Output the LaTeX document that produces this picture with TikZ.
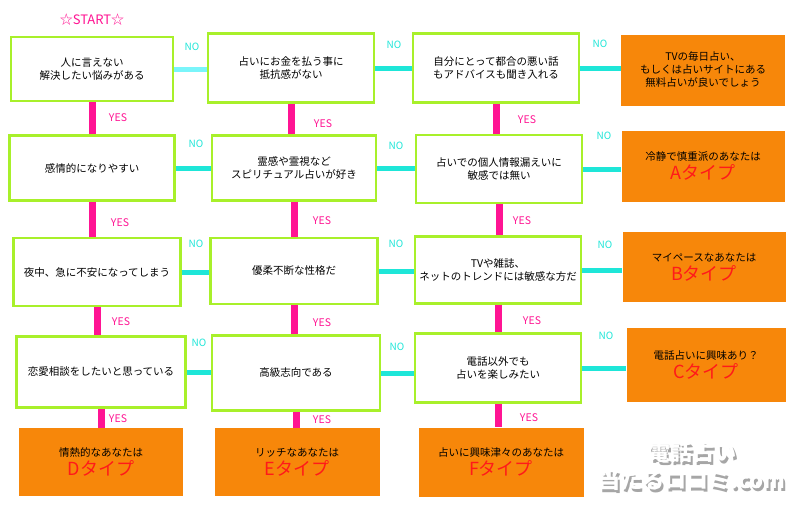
\documentclass[tikz,border=0pt]{standalone}
\usepackage{fontspec}
\setmainfont{Noto Sans CJK JP}
\begin{document}
\begin{tikzpicture}[x=1pt,y=-1pt,
    qbox/.style={draw=lime_green, line width=2.2pt, fill=white, align=center, font=\fontsize{10.5}{13}\selectfont, inner sep=0pt},
    abox/.style={fill=res_orange, align=center, font=\fontsize{10.5}{13}\selectfont, inner sep=0pt},
    nolink/.style={draw=no_cyan, line width=5pt},
    yeslink/.style={draw=yes_pink, line width=7pt},
    nolab/.style={text=no_cyan, font=\fontsize{10}{12}\selectfont},
    yeslab/.style={text=yes_pink, font=\fontsize{10.5}{12}\selectfont}]
    \definecolor{lime_green}{HTML}{A8F02A}
    \definecolor{res_orange}{HTML}{F7870A}
    \definecolor{no_cyan}{HTML}{1EE6D8}
    \definecolor{light_cyan}{HTML}{7AF5FA}
    \definecolor{yes_pink}{HTML}{FF1493}
    \definecolor{type_red}{HTML}{FF1A1A}
    \useasboundingbox[fill=white] (0,0) rectangle (800,512);

    \node[text=yes_pink, font=\fontsize{13}{14}\selectfont] (start) at (92,20) {☆START☆};

    % questions
    \node[qbox, minimum width=162, minimum height=64] (q1) at (92,69) {人に言えない\\解決したい悩みがある};
    \node[qbox, minimum width=166, minimum height=69] (q2) at (291,68) {占いにお金を払う事に\\抵抗感がない};
    \node[qbox, minimum width=166, minimum height=69] (q3) at (496,68) {自分にとって都合の悪い話\\もアドバイスも聞き入れる};
    \node[qbox, minimum width=165, minimum height=65] (q4) at (92,168) {感情的になりやすい};
    \node[qbox, minimum width=164, minimum height=65] (q5) at (294,168) {霊感や霊視など\\スピリチュアル占いが好き};
    \node[qbox, minimum width=166, minimum height=68] (q6) at (499,169) {占いでの個人情報漏えいに\\敏感では無い};
    \node[qbox, minimum width=167, minimum height=68] (q7) at (97,272) {夜中、急に不安になってしまう};
    \node[qbox, minimum width=167, minimum height=66] (q8) at (294,271) {優柔不断な性格だ};
    \node[qbox, minimum width=166, minimum height=67] (q9) at (498,270) {TVや雑誌、\\ネットのトレンドには敏感な方だ};
    \node[qbox, minimum width=169, minimum height=71] (q10) at (101,372) {恋愛相談をしたいと思っている};
    \node[qbox, minimum width=168, minimum height=75] (q11) at (296,373) {高級志向である};
    \node[qbox, minimum width=166, minimum height=69] (q12) at (498,368) {電話以外でも\\占いを楽しみたい};

    % results
    \node[abox, minimum width=164, minimum height=71] (r0) at (703,70) {TVの毎日占い、\\もしくは占いサイトにある\\無料占いが良いでしょう};
    \node[abox, minimum width=163, minimum height=71] (rA) at (703,166) {冷静で慎重派のあなたは\\[2pt]{\fontsize{18}{20}\selectfont\color{type_red}Aタイプ}};
    \node[abox, minimum width=163, minimum height=70] (rB) at (704,267) {マイペースなあなたは\\[2pt]{\fontsize{18}{20}\selectfont\color{type_red}Bタイプ}};
    \node[abox, minimum width=159, minimum height=74] (rC) at (706,365) {電話占いに興味あり？\\[2pt]{\fontsize{18}{20}\selectfont\color{type_red}Cタイプ}};
    \node[abox, minimum width=164, minimum height=68] (rD) at (101,462) {情熱的なあなたは\\[2pt]{\fontsize{18}{20}\selectfont\color{type_red}Dタイプ}};
    \node[abox, minimum width=165, minimum height=68] (rE) at (297,462) {リッチなあなたは\\[2pt]{\fontsize{18}{20}\selectfont\color{type_red}Eタイプ}};
    \node[abox, minimum width=165, minimum height=69] (rF) at (501,462) {占いに興味津々のあなたは\\[2pt]{\fontsize{18}{20}\selectfont\color{type_red}Fタイプ}};

    % NO links
    \draw[nolink, draw=light_cyan] (q1.east) -- (q1.east -| q2.west);
    \draw[nolink] (q2.east) -- (q2.east -| q3.west);
    \draw[nolink] (q3.east) -- (q3.east -| r0.west);
    \draw[nolink] (q4.east) -- (q4.east -| q5.west);
    \draw[nolink] (q5.east) -- (q5.east -| q6.west);
    \draw[nolink] (q6.east) -- (q6.east -| rA.west);
    \draw[nolink] (q7.east) -- (q7.east -| q8.west);
    \draw[nolink] (q8.east) -- (q8.east -| q9.west);
    \draw[nolink] (q9.east) -- (q9.east -| rB.west);
    \draw[nolink] (q10.east) -- (q10.east -| q11.west);
    \draw[nolink] (q11.east) -- (q11.east -| q12.west);
    \draw[nolink] (q12.east) -- (q12.east -| rC.west);
    \node[nolab] (n1) at (192,47) {NO};
    \node[nolab] (n2) at (394,45) {NO};
    \node[nolab] (n3) at (600,44) {NO};
    \node[nolab] (n4) at (196,144) {NO};
    \node[nolab] (n5) at (396,146) {NO};
    \node[nolab] (n6) at (604,136) {NO};
    \node[nolab] (n7) at (196,244) {NO};
    \node[nolab] (n8) at (396,244) {NO};
    \node[nolab] (n9) at (605,245) {NO};
    \node[nolab] (n10) at (199,343) {NO};
    \node[nolab] (n11) at (397,347) {NO};
    \node[nolab] (n12) at (606,336) {NO};

    % YES links
    \draw[yeslink] (q1.south) -- (q1.south |- q4.north);
    \draw[yeslink] (q2.south) -- (q2.south |- q5.north);
    \draw[yeslink] (q3.south) -- (q3.south |- q6.north);
    \draw[yeslink] (q4.south) -- (q4.south |- q7.north);
    \draw[yeslink] (q5.south) -- (q5.south |- q8.north);
    \draw[yeslink] (q6.south) -- (q6.south |- q9.north);
    \draw[yeslink] (q7.south) -- (q7.south |- q10.north);
    \draw[yeslink] (q8.south) -- (q8.south |- q11.north);
    \draw[yeslink] (q9.south) -- (q9.south |- q12.north);
    \draw[yeslink] (q10.south) -- (q10.south |- rD.north);
    \draw[yeslink] (q11.south) -- (q11.south |- rE.north);
    \draw[yeslink] (q12.south) -- (q12.south |- rF.north);
    \node[yeslab] (y1) at (118,118) {YES};
    \node[yeslab] (y2) at (323,124) {YES};
    \node[yeslab] (y3) at (527,120) {YES};
    \node[yeslab] (y4) at (120,223) {YES};
    \node[yeslab] (y5) at (322,221) {YES};
    \node[yeslab] (y6) at (522,221) {YES};
    \node[yeslab] (y7) at (121,322) {YES};
    \node[yeslab] (y8) at (322,323) {YES};
    \node[yeslab] (y9) at (532,321) {YES};
    \node[yeslab] (y10) at (118,419) {YES};
    \node[yeslab] (y11) at (322,420) {YES};
    \node[yeslab] (y12) at (529,418) {YES};

    % watermark
    \node[text=gray!70, align=center, font=\fontsize{22}{28}\selectfont\bfseries] (mark_shadow) at (694,469) {電話占い\\当たるロコミ.com};
    \node[text=white, align=center, font=\fontsize{22}{28}\selectfont\bfseries] (mark) at (692,466) {電話占い\\当たるロコミ.com};
\end{tikzpicture}
\end{document}
